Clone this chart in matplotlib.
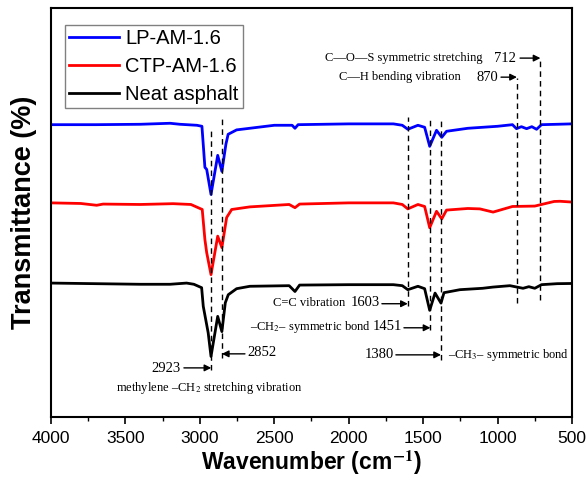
"""
FTIR spectra of neat asphalt and modified asphalts, with band assignments
"""

import matplotlib
matplotlib.use('Agg')
import matplotlib.pyplot as plt
from matplotlib.ticker import MultipleLocator

plt.rcParams['font.family'] = ['Liberation Sans', 'DejaVu Sans']
plt.rcParams['mathtext.fontset'] = 'stix'

# wavenumber (cm-1) and transmittance (offset traces)
wn_lp = [4000, 3700, 3400, 3200, 3134, 3020, 2986, 2966, 2954, 2925, 2880, 2852,
         2825, 2810, 2753, 2500, 2380, 2361, 2340, 2000, 1700, 1640, 1603, 1535,
         1490, 1456, 1410, 1375, 1343, 1200, 1000, 900, 873, 840, 805, 770, 738,
         705, 600, 500]
t_lp = [72.9, 72.9, 73.0, 73.25, 73.0, 72.75, 72.5, 62.25, 61.75, 55.5, 65.25, 61.25,
        68.0, 70.5, 71.6, 72.75, 72.75, 72.0, 72.9, 73.1, 73.1, 72.75, 71.75, 72.75,
        72.25, 67.5, 71.5, 69.75, 71.25, 72.0, 72.5, 72.9, 71.9, 72.4, 71.9, 72.4, 71.75,
        72.9, 73.0, 73.1]

wn_ctp = [4000, 3800, 3693, 3650, 3400, 3180, 3060, 2984, 2966, 2954, 2925, 2880,
          2852, 2820, 2786, 2664, 2400, 2361, 2330, 2000, 1700, 1640, 1603, 1535,
          1490, 1456, 1410, 1375, 1343, 1200, 1119, 1030, 900, 750, 620, 581, 500]
t_ctp = [53.4, 53.25, 52.8, 53.1, 53.0, 53.2, 53.0, 51.75, 44.25, 41.0, 35.5, 45.1,
         42.25, 49.75, 51.75, 52.4, 53.0, 52.2, 53.1, 53.4, 53.4, 53.0, 51.9, 53.0,
         52.5, 47.2, 51.3, 49.4, 51.6, 52.0, 51.9, 51.1, 52.5, 52.6, 53.75, 53.8, 53.6]

wn_neat = [4000, 3700, 3400, 3200, 3089, 3040, 2988, 2977, 2944, 2925, 2880, 2852,
           2829, 2809, 2753, 2664, 2400, 2361, 2330, 2000, 1700, 1640, 1603, 1535,
           1490, 1456, 1420, 1380, 1360, 1253, 1100, 1031, 917, 829, 790, 750, 705,
           600, 500]
t_neat = [33.4, 33.25, 33.1, 33.1, 33.4, 33.1, 32.25, 27.6, 21.0, 15.1, 25.1, 21.3,
          28.5, 30.5, 32.0, 32.6, 32.75, 31.3, 32.9, 33.0, 33.0, 32.75, 31.75, 32.6,
          32.0, 26.6, 30.9, 28.4, 31.0, 31.75, 32.1, 32.4, 32.75, 32.1, 32.5, 32.1, 33.0,
          33.25, 33.3]

labels = ['LP-AM-1.6', 'CTP-AM-1.6', 'Neat asphalt']
colors = ['#0000ff', '#ff0000', '#000000']

# band assignments: wavenumber, dashed line top / bottom, arrow height
peaks = [2923, 2852, 1603, 1451, 1380, 870, 712]
line_top = [71.3, 74.75, 74.75, 74.75, 74.75, 84.5, 89.0]
line_bot = [11.75, 14.75, 27.75, 21.75, 14.25, 28.5, 29.25]
arrow_y = [12.25, 15.75, 28.25, 22.25, 15.5, 84.75, 89.5]
arrow_tail = [3107, 2697, 1777, 1629, 1683, 977, 849]

fig = plt.figure(figsize=(5.88, 4.78), dpi=100)
ax = fig.add_axes([0.0867, 0.1276, 0.8861, 0.8557])

for wn, t, lab, c in zip([wn_lp, wn_ctp, wn_neat], [t_lp, t_ctp, t_neat], labels, colors):
    ax.plot(wn, t, color=c, lw=2, label=lab, solid_joinstyle='round')

for p, top, bot in zip(peaks, line_top, line_bot):
    ax.plot([p, p], [bot, top], color='black', lw=1, ls=(0, (4, 3)))

for p, y, tail in zip(peaks, arrow_y, arrow_tail):
    ax.annotate('', xy=(p, y), xytext=(tail, y),
                arrowprops=dict(arrowstyle='-|>', color='black', lw=1,
                                mutation_scale=10, shrinkA=0, shrinkB=0))

serif = ['Liberation Serif', 'DejaVu Serif']
num_kw = dict(fontsize=10.5, family=serif, va='center')
txt_kw = dict(fontsize=9, family=serif, va='center')

ax.text(3127, 12.0, '2923', ha='right', **num_kw)
ax.text(2940, 7.2, r'methylene –CH$_2$ stretching vibration', ha='center', **txt_kw)
ax.text(2683, 16.0, '2852', ha='left', **num_kw)
ax.text(1790, 28.5, '1603', ha='right', **num_kw)
ax.text(2020, 28.5, 'C=C vibration', ha='right', **txt_kw)
ax.text(1642, 22.5, '1451', ha='right', **num_kw)
ax.text(1850, 22.5, r'–CH$_2$– symmetric bond', ha='right', **txt_kw)
ax.text(1696, 15.5, '1380', ha='right', **num_kw)
ax.text(1333, 15.5, r'–CH$_3$– symmetric bond', ha='left', **txt_kw)
ax.text(997, 84.75, '870', ha='right', **num_kw)
ax.text(1245, 84.75, 'C—H bending vibration', ha='right', **txt_kw)
ax.text(876, 89.5, '712', ha='right', **num_kw)
ax.text(1100, 89.5, 'C—O—S symmetric stretching', ha='right', **txt_kw)

ax.set_xlim(4000, 500)
ax.set_ylim(0, 102)
ax.xaxis.set_major_locator(MultipleLocator(500))
ax.xaxis.set_minor_locator(MultipleLocator(250))
ax.set_yticks([])
ax.tick_params(axis='x', which='major', direction='out', length=5, width=1.2,
               labelsize=12.5, pad=5)
ax.tick_params(axis='x', which='minor', direction='out', length=3, width=1)
for s in ax.spines.values():
    s.set_linewidth(1.5)

ax.set_xlabel('Wavenumber (cm$^{\\mathbf{-1}}$)', fontsize=16.5, fontweight='bold',
              labelpad=2)
ax.set_ylabel('Transmittance (%)', fontsize=19.5, fontweight='bold', labelpad=10)

leg = ax.legend(loc='upper left', bbox_to_anchor=(0.027, 0.958), fontsize=14.5,
                frameon=True, fancybox=False, edgecolor='#808080', framealpha=1,
                handlelength=2.5, handletextpad=0.3, borderpad=0.2,
                labelspacing=0.45, borderaxespad=0)
leg.get_frame().set_linewidth(1)

fig.savefig('out.png', dpi=100)
